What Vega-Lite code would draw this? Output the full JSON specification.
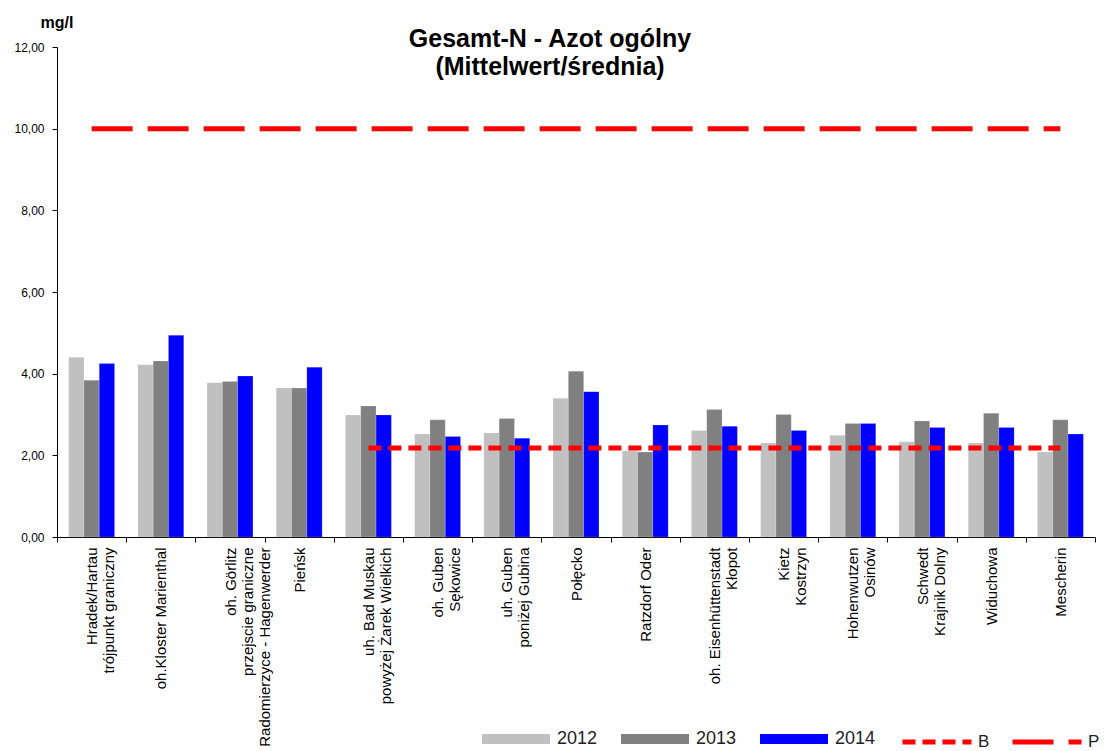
{
  "$schema": "https://vega.github.io/schema/vega-lite/v6.json",
  "width": 1038,
  "height": 490,
  "autosize": {"type": "none"},
  "padding": {"left": 57, "top": 47, "right": 9, "bottom": 214},
  "background": "white",
  "config": {
    "font": "Liberation Sans",
    "view": {"stroke": null},
    "axis": {"grid": false, "domainColor": "#000", "tickColor": "#000", "labelColor": "#000", "titleColor": "#000", "labelFont": "Liberation Sans", "titleFont": "Liberation Sans"},
    "legend": {"labelFont": "Liberation Sans", "labelColor": "#222"}
  },
  "title": {
    "text": ["Gesamt-N - Azot ogólny", "(Mittelwert/średnia)"],
    "font": "Liberation Sans",
    "fontSize": 25,
    "fontWeight": "bold",
    "lineHeight": 28,
    "anchor": "middle",
    "color": "#000",
    "dx": -26,
    "dy": 70
  },
  "datasets": {
    "bars": [
      {"station": "Hradek/Hartau|trójpunkt graniczny", "year": "2012", "value": 4.40},
      {"station": "Hradek/Hartau|trójpunkt graniczny", "year": "2013", "value": 3.84},
      {"station": "Hradek/Hartau|trójpunkt graniczny", "year": "2014", "value": 4.25},
      {"station": "oh.Kloster Marienthal", "year": "2012", "value": 4.22},
      {"station": "oh.Kloster Marienthal", "year": "2013", "value": 4.31},
      {"station": "oh.Kloster Marienthal", "year": "2014", "value": 4.94},
      {"station": "oh. Görlitz|przejscie graniczne|Radomierzyce - Hagenwerder", "year": "2012", "value": 3.78},
      {"station": "oh. Görlitz|przejscie graniczne|Radomierzyce - Hagenwerder", "year": "2013", "value": 3.81},
      {"station": "oh. Görlitz|przejscie graniczne|Radomierzyce - Hagenwerder", "year": "2014", "value": 3.94},
      {"station": "Pieńsk", "year": "2012", "value": 3.65},
      {"station": "Pieńsk", "year": "2013", "value": 3.65},
      {"station": "Pieńsk", "year": "2014", "value": 4.16},
      {"station": "uh. Bad Muskau|powyżej Żarek Wielkich", "year": "2012", "value": 2.99},
      {"station": "uh. Bad Muskau|powyżej Żarek Wielkich", "year": "2013", "value": 3.21},
      {"station": "uh. Bad Muskau|powyżej Żarek Wielkich", "year": "2014", "value": 2.99},
      {"station": "oh. Guben|Sękowice", "year": "2012", "value": 2.52},
      {"station": "oh. Guben|Sękowice", "year": "2013", "value": 2.87},
      {"station": "oh. Guben|Sękowice", "year": "2014", "value": 2.46},
      {"station": "uh. Guben|poniżej Gubina", "year": "2012", "value": 2.55},
      {"station": "uh. Guben|poniżej Gubina", "year": "2013", "value": 2.90},
      {"station": "uh. Guben|poniżej Gubina", "year": "2014", "value": 2.42},
      {"station": "Połęcko", "year": "2012", "value": 3.40},
      {"station": "Połęcko", "year": "2013", "value": 4.06},
      {"station": "Połęcko", "year": "2014", "value": 3.56},
      {"station": "Ratzdorf Oder", "year": "2012", "value": 2.11},
      {"station": "Ratzdorf Oder", "year": "2013", "value": 2.08},
      {"station": "Ratzdorf Oder", "year": "2014", "value": 2.74},
      {"station": "oh. Eisenhüttenstadt|Kłopot", "year": "2012", "value": 2.61},
      {"station": "oh. Eisenhüttenstadt|Kłopot", "year": "2013", "value": 3.12},
      {"station": "oh. Eisenhüttenstadt|Kłopot", "year": "2014", "value": 2.71},
      {"station": "Kietz|Kostrzyn", "year": "2012", "value": 2.30},
      {"station": "Kietz|Kostrzyn", "year": "2013", "value": 3.00},
      {"station": "Kietz|Kostrzyn", "year": "2014", "value": 2.61},
      {"station": "Hohenwutzen|Osinów", "year": "2012", "value": 2.49},
      {"station": "Hohenwutzen|Osinów", "year": "2013", "value": 2.78},
      {"station": "Hohenwutzen|Osinów", "year": "2014", "value": 2.78},
      {"station": "Schwedt|Krajnik Dolny", "year": "2012", "value": 2.33},
      {"station": "Schwedt|Krajnik Dolny", "year": "2013", "value": 2.84},
      {"station": "Schwedt|Krajnik Dolny", "year": "2014", "value": 2.68},
      {"station": "Widuchowa", "year": "2012", "value": 2.30},
      {"station": "Widuchowa", "year": "2013", "value": 3.03},
      {"station": "Widuchowa", "year": "2014", "value": 2.68},
      {"station": "Mescherin", "year": "2012", "value": 2.08},
      {"station": "Mescherin", "year": "2013", "value": 2.87},
      {"station": "Mescherin", "year": "2014", "value": 2.52}
    ],
    "lines": [
      {"station": "Hradek/Hartau|trójpunkt graniczny", "series": "P", "value": 10},
      {"station": "oh.Kloster Marienthal", "series": "P", "value": 10},
      {"station": "oh. Görlitz|przejscie graniczne|Radomierzyce - Hagenwerder", "series": "P", "value": 10},
      {"station": "Pieńsk", "series": "P", "value": 10},
      {"station": "uh. Bad Muskau|powyżej Żarek Wielkich", "series": "P", "value": 10},
      {"station": "oh. Guben|Sękowice", "series": "P", "value": 10},
      {"station": "uh. Guben|poniżej Gubina", "series": "P", "value": 10},
      {"station": "Połęcko", "series": "P", "value": 10},
      {"station": "Ratzdorf Oder", "series": "P", "value": 10},
      {"station": "oh. Eisenhüttenstadt|Kłopot", "series": "P", "value": 10},
      {"station": "Kietz|Kostrzyn", "series": "P", "value": 10},
      {"station": "Hohenwutzen|Osinów", "series": "P", "value": 10},
      {"station": "Schwedt|Krajnik Dolny", "series": "P", "value": 10},
      {"station": "Widuchowa", "series": "P", "value": 10},
      {"station": "Mescherin", "series": "P", "value": 10},
      {"station": "uh. Bad Muskau|powyżej Żarek Wielkich", "series": "B", "value": 2.18},
      {"station": "oh. Guben|Sękowice", "series": "B", "value": 2.18},
      {"station": "uh. Guben|poniżej Gubina", "series": "B", "value": 2.18},
      {"station": "Połęcko", "series": "B", "value": 2.18},
      {"station": "Ratzdorf Oder", "series": "B", "value": 2.18},
      {"station": "oh. Eisenhüttenstadt|Kłopot", "series": "B", "value": 2.18},
      {"station": "Kietz|Kostrzyn", "series": "B", "value": 2.18},
      {"station": "Hohenwutzen|Osinów", "series": "B", "value": 2.18},
      {"station": "Schwedt|Krajnik Dolny", "series": "B", "value": 2.18},
      {"station": "Widuchowa", "series": "B", "value": 2.18},
      {"station": "Mescherin", "series": "B", "value": 2.18}
    ]
  },
  "layer": [
    {
      "data": {"name": "bars"},
      "mark": {"type": "bar", "stroke": "#ffffff", "strokeOpacity": 0.35, "strokeWidth": 0.5},
      "encoding": {
        "x": {
          "field": "station",
          "type": "nominal",
          "sort": ["Hradek/Hartau|trójpunkt graniczny", "oh.Kloster Marienthal", "oh. Görlitz|przejscie graniczne|Radomierzyce - Hagenwerder", "Pieńsk", "uh. Bad Muskau|powyżej Żarek Wielkich", "oh. Guben|Sękowice", "uh. Guben|poniżej Gubina", "Połęcko", "Ratzdorf Oder", "oh. Eisenhüttenstadt|Kłopot", "Kietz|Kostrzyn", "Hohenwutzen|Osinów", "Schwedt|Krajnik Dolny", "Widuchowa", "Mescherin"],
          "scale": {"paddingInner": 0, "paddingOuter": 0},
          "axis": {
            "title": null,
            "labelAngle": -90,
            "labelAlign": "right",
            "labelBaseline": "middle",
            "labelExpr": "split(datum.label, '|')",
            "labelFontSize": 15,
            "labelLineHeight": 17,
            "labelLimit": 400,
            "labelPadding": 5,
            "tickBand": "extent",
            "tickSize": 5
          }
        },
        "xOffset": {"field": "year", "type": "nominal", "scale": {"paddingInner": 0, "paddingOuter": 0.76}},
        "y": {
          "field": "value",
          "type": "quantitative",
          "scale": {"domain": [0, 12], "nice": false},
          "axis": {
            "title": "mg/l",
            "titleAngle": 0,
            "titleX": -17,
            "titleY": -20,
            "titleAlign": "left",
            "titleBaseline": "alphabetic",
            "titleFontSize": 16,
            "titleFontWeight": "bold",
            "values": [0, 2, 4, 6, 8, 10, 12],
            "labelExpr": "replace(format(datum.value, '.2f'), '.', ',')",
            "labelFontSize": 12,
            "tickSize": 5,
            "labelPadding": 8
          }
        },
        "fill": {
          "field": "year",
          "type": "nominal",
          "scale": {"domain": ["2012", "2013", "2014"], "range": ["#C0C0C0", "#808080", "#0000FF"]},
          "legend": {
            "title": null,
            "orient": "none",
            "legendX": 425,
            "legendY": 658,
            "direction": "horizontal",
            "symbolType": "M-1,-0.15H1V0.15H-1Z",
            "symbolSize": 4624,
            "symbolStrokeWidth": 0,
            "labelFontSize": 18,
            "labelOffset": 7,
            "columnPadding": 23
          }
        }
      }
    },
    {
      "data": {"name": "lines"},
      "mark": {"type": "line", "color": "#FF0000", "strokeWidth": 5},
      "encoding": {
        "x": {"field": "station", "type": "nominal", "sort": ["Hradek/Hartau|trójpunkt graniczny", "oh.Kloster Marienthal", "oh. Görlitz|przejscie graniczne|Radomierzyce - Hagenwerder", "Pieńsk", "uh. Bad Muskau|powyżej Żarek Wielkich", "oh. Guben|Sękowice", "uh. Guben|poniżej Gubina", "Połęcko", "Ratzdorf Oder", "oh. Eisenhüttenstadt|Kłopot", "Kietz|Kostrzyn", "Hohenwutzen|Osinów", "Schwedt|Krajnik Dolny", "Widuchowa", "Mescherin"]},
        "y": {"field": "value", "type": "quantitative"},
        "strokeDash": {
          "field": "series",
          "type": "nominal",
          "scale": {"domain": ["B", "P"], "range": [[13, 7], [41, 15]]},
          "legend": {
            "title": null,
            "orient": "none",
            "legendX": 843,
            "legendY": 658,
            "direction": "horizontal",
            "symbolType": "stroke",
            "symbolSize": 4761,
            "symbolStrokeWidth": 5,
            "symbolStrokeColor": "#FF0000",
            "labelFontSize": 17,
            "labelOffset": 4,
            "columnPadding": 12
          }
        }
      }
    }
  ]
}
